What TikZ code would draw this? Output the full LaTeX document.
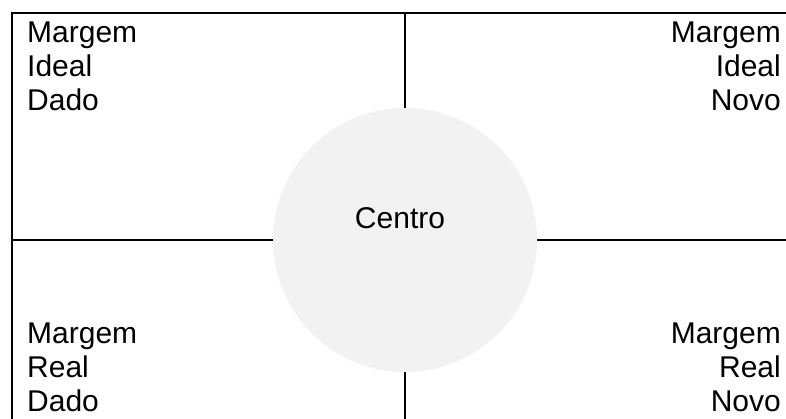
\documentclass[tikz,border=0pt]{standalone}
\usepackage{fontspec}
\setmainfont{Liberation Sans}
\definecolor{centrefill}{HTML}{F2F2F2}
\begin{document}
\begin{tikzpicture}[x=1pt,y=-1pt,
  frameline/.style={line width=2pt,black},
  label/.style={inner sep=0pt,font=\fontsize{30}{34}\selectfont},
  cornerleft/.style={label,align=left,anchor=base west},
  cornerright/.style={label,align=right,anchor=base east}]
  \useasboundingbox (0,0) rectangle (786,418);
  \clip (0,0) rectangle (786,418);
  % frame corners and the cross through the middle
  \coordinate (tl) at (12,13);
  \coordinate (br) at (800,430);
  \coordinate (top) at (405,13);
  \coordinate (bottom) at (405,430);
  \coordinate (left) at (12,240);
  \coordinate (right) at (800,240);
  \draw[frameline] (tl) rectangle (br);
  \draw[frameline] (top) -- (bottom);
  \draw[frameline] (left) -- (right);
  % central circle
  \node[circle,fill=centrefill,minimum size=264pt,inner sep=0pt] (centro) at (405,240) {};
  \node[label,anchor=base] (centrotext) at (400,228) {Centro};
  % quadrant labels (base anchor sits on the last line)
  \node[cornerleft]  (idealdado)  at (27,110)  {Margem\\Ideal\\Dado};
  \node[cornerright] (idealnovo)  at (781,110) {Margem\\Ideal\\Novo};
  \node[cornerleft]  (realdado)   at (27,411)  {Margem\\Real\\Dado};
  \node[cornerright] (realnovo)   at (781,411) {Margem\\Real\\Novo};
\end{tikzpicture}
\end{document}
